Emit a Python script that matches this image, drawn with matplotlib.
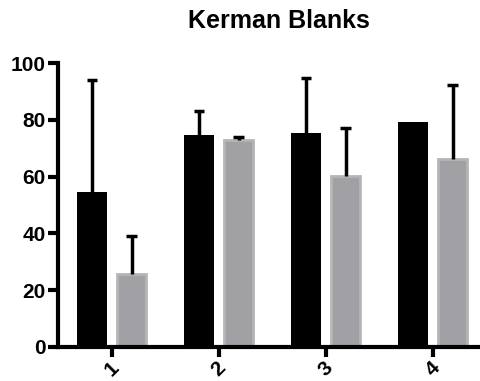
import matplotlib
matplotlib.use('Agg')
import matplotlib.pyplot as plt
import numpy as np

plt.rcParams['font.family'] = ['Liberation Sans', 'DejaVu Sans']
plt.rcParams['font.weight'] = 'bold'

# Data
groups = ['1', '2', '3', '4']
black_vals = [54.5, 74.7, 75.5, 79.3]
black_err = [39.6, 8.6, 19.2, 0.0]
gray_vals = [25.5, 72.9, 60.2, 66.2]
gray_err = [13.7, 1.2, 17.1, 26.1]

x = np.arange(1, len(groups) + 1)
off = 0.185
w = 0.275
cap = 0.048

fig = plt.figure(figsize=(4.81, 3.81), dpi=100)
ax = fig.add_axes([0.121, 0.09, 0.89, 0.744])

ax.bar(x - off, black_vals, width=w, color='black', zorder=2)
ax.bar(x + off, gray_vals, width=w, color='#a1a0a5', edgecolor='#b5b5b5',
       linewidth=2, zorder=2)

# upward-only error bars with a cap on top
for xs, vals, errs in [(x - off, black_vals, black_err), (x + off, gray_vals, gray_err)]:
    vals = np.array(vals)
    errs = np.array(errs)
    m = errs > 0
    ax.vlines(xs[m], vals[m], vals[m] + errs[m], color='black', lw=2.5, zorder=3)
    ax.hlines(vals[m] + errs[m], xs[m] - cap, xs[m] + cap, color='black', lw=2.5, zorder=3)

ax.set_xlim(0.5, 4.5)
ax.set_ylim(0, 100)
ax.set_xticks(x)
ax.set_xticklabels(groups, rotation=45, fontsize=15, fontweight='bold')
ax.set_yticks([0, 20, 40, 60, 80, 100])
ax.tick_params(axis='y', labelsize=15, width=3, length=7, direction='out', pad=2)
ax.tick_params(axis='x', width=3, length=7, direction='out', pad=1)
for lab in ax.get_yticklabels():
    lab.set_fontweight('bold')

for s in ['top', 'right']:
    ax.spines[s].set_visible(False)
for s in ['left', 'bottom']:
    ax.spines[s].set_linewidth(3)

fig.text(0.58, 0.946, 'Kerman Blanks', ha='center', va='center',
         fontsize=18, fontweight='bold')

fig.savefig('out.png', dpi=100)
